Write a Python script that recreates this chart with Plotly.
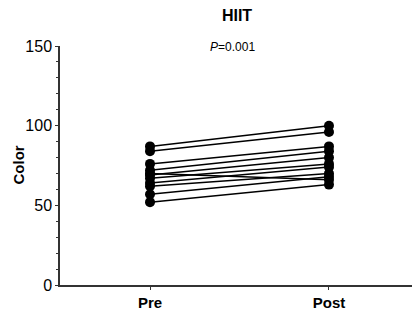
import plotly.graph_objects as go

conditions = ["Pre", "Post"]
pre = [87, 84, 76, 72, 70, 69, 67, 64, 62, 57, 52]
post = [100, 96, 87, 84, 66, 80, 76, 74, 70, 68, 63]
y_ticks = [0, 50, 100, 150]
title_text = "HIIT"
p_text = "<i>P</i>=0.001"
y_label = "Color"

W, H = 414, 314
L, R, T, B = 60, 2, 46, 29
PW, PH = W - L - R, H - T - B

fig = go.Figure()
for a, b in zip(pre, post):
    fig.add_trace(go.Scatter(
        x=[0, 1], y=[a, b], mode="lines+markers",
        line=dict(color="black", width=1.5),
        marker=dict(color="black", size=10),
        showlegend=False, hoverinfo="skip"))

fig.update_layout(
    width=W, height=H,
    margin=dict(l=L, r=R, t=T, b=B, autoexpand=False),
    paper_bgcolor="white", plot_bgcolor="white",
    font=dict(family="Liberation Sans, Arial", color="black"),
    title=dict(text="<b>" + title_text + "</b>", x=237 / W, xanchor="center",
               y=1 - 15 / H, yanchor="middle", font=dict(size=16)),
    xaxis=dict(range=[-0.503, 1.464], tickvals=[0, 1],
               ticktext=["<b>" + c + "</b>" for c in conditions],
               showline=True, linecolor="#333", linewidth=1.5,
               ticks="outside", ticklen=3, tickcolor="#333", tickwidth=1.2,
               showgrid=False, zeroline=False, tickfont=dict(size=15),
               automargin=False),
    yaxis=dict(range=[0, 150], tickvals=y_ticks,
               showline=True, linecolor="#333", linewidth=1.5,
               ticks="outside", ticklen=3, tickcolor="#333", tickwidth=1.2,
               minor=dict(dtick=10, ticks="outside", ticklen=2, tickcolor="#333", tickwidth=1),
               showgrid=False, zeroline=False, tickfont=dict(size=16),
               automargin=False),
    annotations=[
        dict(text=p_text, x=0.46, xref="x", y=1 + (T - 47) / PH, yref="paper",
             showarrow=False, font=dict(size=12), yanchor="middle"),
        dict(text="<b>" + y_label + "</b>", textangle=-90, x=(18 - L) / PW, xref="paper",
             y=0.5, yref="paper", xanchor="center", yanchor="middle",
             showarrow=False, font=dict(size=15)),
    ],
)
fig.write_html("out.html", post_script="document.body.style.margin='0';",
               config={"displayModeBar": False})
